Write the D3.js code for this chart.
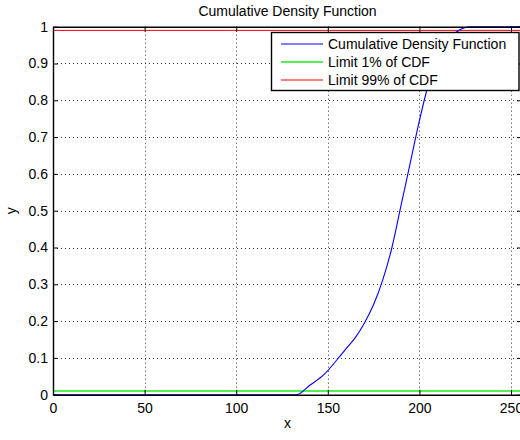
<!DOCTYPE html>
<html>
<head>
<meta charset="utf-8">
<script src="https://cdn.jsdelivr.net/npm/d3@7"></script>
<style>
body{margin:0;background:#fff;}
svg{display:block;font-family:"Liberation Sans",Arial,sans-serif;}
</style>
</head>
<body>
<div id="chart"></div>
<script>
//データ
var cdfX=[0,133,140,148,155,160,165,170,175,180,185,190,195,200,205,210,215,220,225,228,256];
var cdfY=[0,0,0.025,0.055,0.095,0.125,0.155,0.195,0.245,0.312,0.40,0.515,0.63,0.745,0.845,0.92,0.96,0.985,0.998,1,1];
var limitLow=0.01;
var limitHigh=0.99;
var xTicks=[0,50,100,150,200,250];
var yTicks=[0,0.1,0.2,0.3,0.4,0.5,0.6,0.7,0.8,0.9,1];
var legendNames=["Cumulative Density Function","Limit 1% of CDF","Limit 99% of CDF"];
var legendColors=["#0000ff","#55ee55","#ff0000"];

var width=520,height=440;
var pLeft=53,pRight=522,pTop=26.7,pBottom=394.7;

var svg=d3.select("#chart").append("svg")
	.attr("width",width)
	.attr("height",height);

var x=d3.scaleLinear().domain([0,256]).range([pLeft,pRight]);
var y=d3.scaleLinear().domain([0,1]).range([pBottom,pTop]);

//グリッド
var grid=svg.append("g")
	.attr("stroke","#000")
	.attr("stroke-width",0.8)
	.attr("stroke-dasharray","1,3");
xTicks.forEach(function(t){
	if(t==0)return;
	grid.append("line").attr("x1",Math.round(x(t))+0.5).attr("x2",Math.round(x(t))+0.5)
		.attr("y1",pTop).attr("y2",pBottom);
});
yTicks.forEach(function(t){
	if(t==0||t==1)return;
	grid.append("line").attr("y1",Math.round(y(t))+0.5).attr("y2",Math.round(y(t))+0.5)
		.attr("x1",pLeft).attr("x2",pRight);
});

//データ線
var line=d3.line().x(function(d){return x(d[0]);}).y(function(d){return y(d[1]);});
var cdfData=cdfX.map(function(v,i){return [v,cdfY[i]];});

svg.append("path").datum([[0,limitLow],[256,limitLow]])
	.attr("d",line).attr("fill","none")
	.attr("stroke",legendColors[1]).attr("stroke-width",2.2);
svg.append("path").datum([[0,limitHigh],[256,limitHigh]])
	.attr("d",line).attr("fill","none")
	.attr("stroke",legendColors[2]).attr("stroke-width",1);
svg.append("path").datum(cdfData)
	.attr("d",line.curve(d3.curveMonotoneX)).attr("fill","none")
	.attr("stroke",legendColors[0]).attr("stroke-width",1.1);

//軸
var axes=[
	{axis:d3.axisBottom(x),pos:"translate(0,"+pBottom+")",ticks:xTicks,labels:true,pad:8},
	{axis:d3.axisTop(x),pos:"translate(0,"+pTop+")",ticks:xTicks,labels:false,pad:8},
	{axis:d3.axisLeft(y),pos:"translate("+pLeft+",0)",ticks:yTicks,labels:true,pad:5},
	{axis:d3.axisRight(y),pos:"translate("+pRight+",0)",ticks:yTicks,labels:false,pad:5}
];
axes.forEach(function(a){
	var g=svg.append("g").attr("transform",a.pos)
		.call(a.axis.tickValues(a.ticks).tickSizeInner(-5).tickSizeOuter(0).tickPadding(a.pad)
			.tickFormat(a.labels?d3.format(""):""));
	g.select(".domain").attr("stroke","#000").attr("stroke-width",1.4);
	g.selectAll(".tick line").attr("stroke","#000").attr("stroke-width",1);
	g.selectAll("text").attr("font-size",14).attr("fill","#000")
		.attr("font-family","Liberation Sans,Arial,sans-serif");
});

//タイトルとラベル
svg.append("text").attr("x",(pLeft+pRight)/2).attr("y",15.5)
	.attr("text-anchor","middle").attr("font-size",14).text("Cumulative Density Function");
svg.append("text").attr("x",(pLeft+pRight)/2).attr("y",428)
	.attr("text-anchor","middle").attr("font-size",14).text("x");
svg.append("text").attr("transform","translate(16,"+((pTop+pBottom)/2)+") rotate(-90)")
	.attr("text-anchor","middle").attr("font-size",14).text("y");

//凡例
var leg=svg.append("g");
leg.append("rect").attr("x",271.5).attr("y",32.5).attr("width",247.5).attr("height",58)
	.attr("fill","#fff").attr("stroke","#000").attr("stroke-width",1.4);
legendNames.forEach(function(name,i){
	var cy=44+i*18;
	leg.append("line").attr("x1",281).attr("x2",323).attr("y1",cy).attr("y2",cy)
		.attr("stroke",legendColors[i]).attr("stroke-width",i==1?2:1);
	leg.append("text").attr("x",328).attr("y",cy+5).attr("font-size",14).text(name);
});
</script>
</body>
</html>
